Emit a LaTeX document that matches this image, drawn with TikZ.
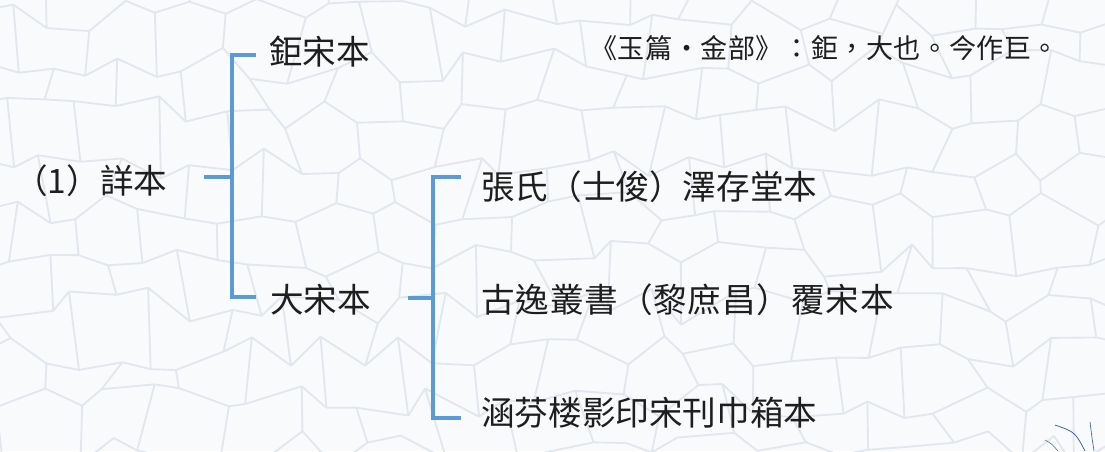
\documentclass[tikz,border=0pt]{standalone}
\usepackage{fontspec}
\newfontfamily\cjk{Noto Sans CJK TC}
\newfontfamily\cjkwide[LetterSpace=2.5]{Noto Sans CJK TC}
\newfontfamily\cjknote[LetterSpace=2]{Noto Sans CJK TC}
\usetikzlibrary{calc}
\definecolor{bracketblue}{HTML}{5B9BD5}
\definecolor{crack}{HTML}{E2E7EE}
\definecolor{paper}{HTML}{F9FAFC}
\definecolor{ink}{HTML}{1E1E1E}
\definecolor{brush}{HTML}{3F64A8}
\tikzset{
  lbl/.style={anchor=west, inner sep=0pt, text=ink, font=\cjk\fontsize{25.2}{28}\selectfont},
  lblwide/.style={anchor=west, inner sep=0pt, text=ink, font=\cjkwide\fontsize{25.2}{28}\selectfont},
  note/.style={anchor=west, inner sep=0pt, text=ink, font=\cjknote\fontsize{20.3}{23}\selectfont},
  br/.style={draw=bracketblue, line width=3pt},
  crk/.style={draw=crack, line width=1.4pt, line join=round},
}
\begin{document}
\begin{tikzpicture}[x=0.75pt, y=-0.75pt]
\fill[paper] (0,0) rectangle (1105,451);
\useasboundingbox (0,0) rectangle (1105,451);
% crackle background (jittered brick network)
\begin{scope}
\clip (0,0) rectangle (1105,451);
\pgfmathsetseed{11}
\foreach \i in {0,...,32}{
  \foreach \j in {0,...,10}{
    \pgfmathsetmacro\dx{13*rand}
    \pgfmathsetmacro\dy{19*rand}
    \coordinate (p-\i-\j) at (\i*36-30+\dx, \j*48-30+\dy);
  }
}
\foreach \i [evaluate=\i as \ii using int(\i+1)] in {0,...,31}{
  \foreach \j in {0,...,10}{
    \draw[crk] (p-\i-\j) -- (p-\ii-\j);
  }
}
\foreach \i in {0,...,32}{
  \foreach \j [evaluate=\j as \jj using int(\j+1)] in {0,...,9}{
    \pgfmathtruncatemacro\parity{mod(\i+\j,2)}
    \ifnum\parity=0 \draw[crk] (p-\i-\j) -- (p-\i-\jj);\fi
  }
}
\end{scope}
% brush strokes bottom right
\draw[brush, line width=0.6pt] (1055,425) .. controls (1075,432) .. (1085,451);
\draw[brush, line width=0.5pt] (1090,422) .. controls (1092,438) .. (1094,451);
\draw[brush, line width=0.4pt] (1045,440) .. controls (1052,444) .. (1058,451);

% labels
\node[lbl] (xiang) at (14,181) {（1）詳本};
\node[lbl] (ju) at (269,52) {鉅宋本};
\node[lbl] (da) at (270,300) {大宋本};
\node[lbl] (zhang) at (481,187) {張氏（士俊）澤存堂本};
\node[lblwide] (guyi) at (481,300) {古逸叢書（黎庶昌）覆宋本};
\node[lbl] (hanfen) at (481,413) {涵芬楼影印宋刊巾箱本};
\node[note] (yupian) at (590,48) {《玉篇·金部》：鉅，大也。今作巨。};

% bracket 1
\coordinate (s1) at (204,177);
\coordinate (m1) at (232,177);
\coordinate (t1a) at (232,55);
\coordinate (t1b) at (256,55);
\coordinate (u1a) at (232,297);
\coordinate (u1b) at (256,297);
\draw[br] (s1) -- (m1);
\draw[br] (t1b) -- (t1a) -- (u1a) -- (u1b);
% bracket 2
\coordinate (s2) at (408,298);
\coordinate (m2) at (433,298);
\coordinate (t2a) at (433,177);
\coordinate (t2b) at (461,177);
\coordinate (u2a) at (433,418);
\coordinate (u2b) at (461,418);
\draw[br] (s2) -- (m2);
\draw[br] (t2b) -- (t2a) -- (u2a) -- (u2b);
\end{tikzpicture}
\end{document}
